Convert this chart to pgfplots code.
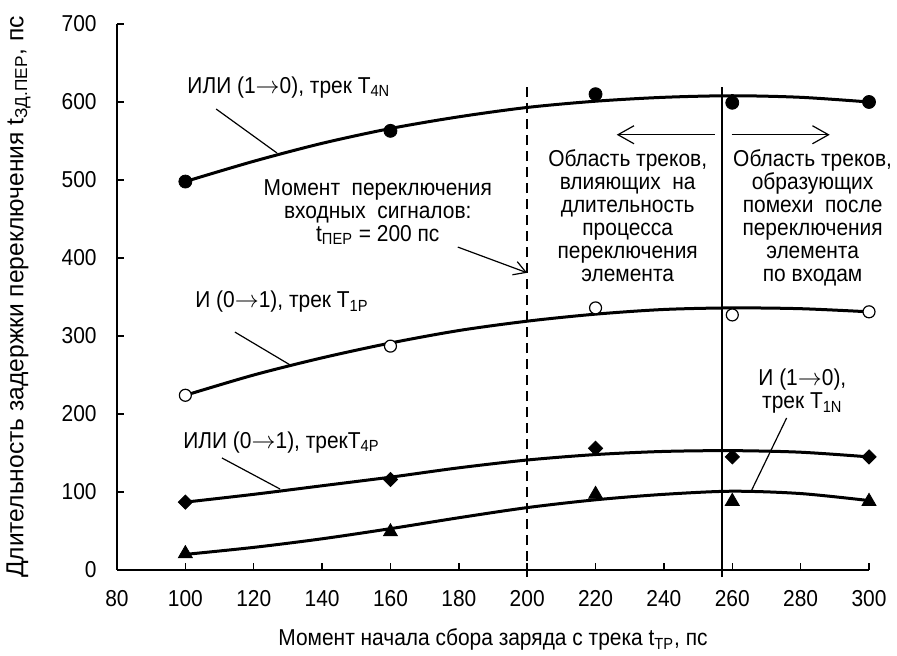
\documentclass[border=0pt]{standalone}
\usepackage{fontspec}
\setmainfont{Liberation Sans}[FakeStretch=0.91]
\newfontfamily\ylfont{Liberation Sans}
\usepackage{pgfplots}
\pgfplotsset{compat=1.18}
\usetikzlibrary{arrows.meta}

\begin{document}
\begin{tikzpicture}[font=\fontsize{11.5}{11.5}\selectfont]
\begin{axis}[
  name=ax,
  scale only axis, width=376pt, height=273pt,
  xmin=80, xmax=300, ymin=0, ymax=700,
  axis x line*=bottom, axis y line*=left,
  xtick={80,100,...,300}, ytick={0,100,...,700},
  tick align=inside, major tick length=3.5pt,
  tick style={black, line width=0.7pt},
  axis line style={line width=0.7pt},
  /pgf/number format/assume math mode=true,
  /pgf/number format/1000 sep={},
  xticklabel style={inner sep=0pt, anchor=north, yshift=-10pt},
  yticklabel style={inner sep=0pt, anchor=east, xshift=-10pt},
  xlabel={Момент начала сбора заряда с трека t\textsubscript{ТР}, пс},
  ylabel={\ylfont\fontsize{12.3}{12.3}\selectfont Длительность задержки переключения t\textsubscript{ЗД.ПЕР}, пс},
  every axis x label/.style={at={(axis description cs:0.5,-0.128)}, anchor=center},
  every axis y label/.style={at={(axis description cs:-0.131,0.5)}, anchor=center, rotate=90},
  clip=false,
]
% trend curves
\addplot[black, line width=1.5pt, smooth, no markers] coordinates {
 (100,498) (120,524) (140,547) (160,566) (180,581) (200,593) (220,601) (240,606) (260,608) (280,606) (300,600)};
\addplot[black, line width=1.5pt, smooth, no markers] coordinates {
 (100,224) (120,250) (140,272) (160,291) (180,307) (200,319) (220,328) (240,334) (260,336) (280,335) (300,331)};
\addplot[black, line width=1.5pt, smooth, no markers] coordinates {
 (100,87) (120,97) (140,108) (160,119) (180,131) (200,141) (220,148) (240,152) (260,153) (280,151) (300,145)};
\addplot[black, line width=1.5pt, smooth, no markers] coordinates {
 (100,20) (120,29) (140,40) (160,53) (180,67) (200,80) (220,90) (240,97) (260,101) (280,98) (300,89)};
% data markers
\addplot[only marks, mark=*, mark size=3.25pt, black] coordinates {
 (100,498) (160,563) (220,610) (260,599) (300,600)};
\addplot[only marks, mark=*, mark size=3pt, mark options={fill=white, draw=black, line width=0.6pt}] coordinates {
 (100,224) (160,287) (220,336) (260,327) (300,331)};
\addplot[only marks, mark=square*, mark size=2.5pt, mark options={rotate=45, fill=black, draw=black}] coordinates {
 (100,87) (160,116) (220,156) (260,145) (300,145)};
\addplot[only marks, mark=triangle*, mark size=4pt, black] coordinates {
 (100,21) (160,49) (220,97) (260,88) (300,88)};

% vertical lines
\draw[line width=0.8pt, dash pattern=on 5pt off 3pt] (axis cs:200,-9) -- (axis cs:200,623);
\draw[line width=0.65pt] (axis cs:257,-9) -- (axis cs:257,619);

% labels and leaders
\node[anchor=west, inner sep=0pt] at (axis cs:100.5,619) {ИЛИ (1$\rightarrow$0), трек T\textsubscript{4N}};
\draw[line width=0.6pt] (axis cs:109,591) -- (axis cs:126.8,534.6);

\node[anchor=west, inner sep=0pt] at (axis cs:102.8,343.6) {И (0$\rightarrow$1), трек T\textsubscript{1P}};
\draw[line width=0.6pt] (axis cs:114.5,305) -- (axis cs:130.6,263);

\node[anchor=west, inner sep=0pt] at (axis cs:99.3,164) {ИЛИ (0$\rightarrow$1), трекT\textsubscript{4P}};
\draw[line width=0.6pt] (axis cs:110.7,143.6) -- (axis cs:127.7,103.8);

\node[align=center, inner sep=0pt] at (axis cs:280.5,229.5) {И (1$\rightarrow$0),\\трек T\textsubscript{1N}};
\draw[line width=0.6pt] (axis cs:275.9,194.9) -- (axis cs:265.7,102.6);

\node[align=center, inner sep=0pt] at (axis cs:156.3,459) {Момент\ \ переключения\\входных\ \ сигналов:\\t\textsubscript{ПЕР} = 200 пс};
\draw[line width=0.6pt, -{Straight Barb[length=6pt,width=7pt]}] (axis cs:179.7,414) -- (axis cs:200,381);

\draw[line width=0.6pt, -{Straight Barb[length=8pt,width=9pt]}] (axis cs:254.9,558) -- (axis cs:226.2,558);
\draw[line width=0.6pt, -{Straight Barb[length=8pt,width=9pt]}] (axis cs:259.8,558) -- (axis cs:288.5,558);

\node[align=center, inner sep=0pt] at (axis cs:229.4,454) {Область треков,\\влияющих\ \ на\\длительность\\процесса\\переключения\\элемента};
\node[align=center, inner sep=0pt] at (axis cs:283.5,452) {Область треков,\\образующих\\помехи\ \ после\\переключения\\элемента\\по входам};
\end{axis}
\pgfresetboundingbox
\path[use as bounding box] (ax.south west) ++(-58.5pt,-43pt) rectangle ++(448.5pt,328pt);
\end{tikzpicture}
\end{document}
